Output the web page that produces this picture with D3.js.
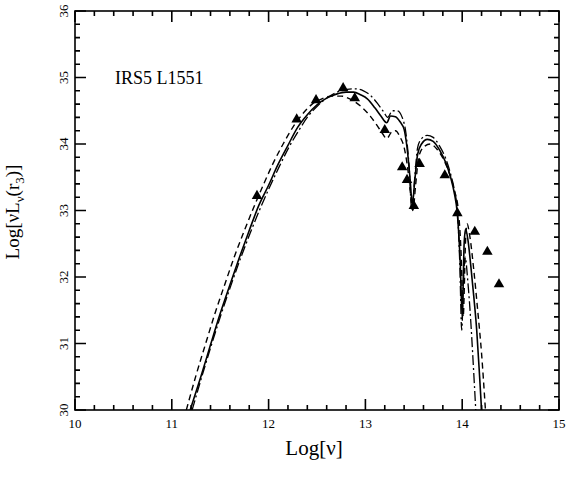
<!DOCTYPE html>
<html>
<head>
<meta charset="utf-8">
<script src="https://cdn.jsdelivr.net/npm/d3@7"></script>
</head>
<body style="margin:0">
<svg id="chart" width="566" height="483"></svg>
<script>

// observed fluxes (triangles)
const obsNu = [11.88, 12.29, 12.49, 12.77, 12.89, 13.20, 13.38, 13.43, 13.50, 13.56, 13.82, 13.95, 14.13, 14.26, 14.38]
const obsL = [33.22, 34.37, 34.66, 34.84, 34.69, 34.21, 33.65, 33.46, 33.07, 33.70, 33.53, 32.96, 32.68, 32.38, 31.89]

// model curves [log nu, log nuLnu]
const solidCurve = [
	[11.19, 30.0], [11.3, 30.5], [11.4, 30.98], [11.5, 31.45], [11.6, 31.88], [11.7, 32.3],
	[11.8, 32.7], [11.9, 33.08], [12.0, 33.38], [12.1, 33.7], [12.2, 33.98], [12.3, 34.25],
	[12.4, 34.44], [12.5, 34.59], [12.6, 34.69], [12.7, 34.75], [12.8, 34.78], [12.88, 34.78],
	[12.95, 34.74], [13.02, 34.68], [13.1, 34.54], [13.16, 34.42], [13.22, 34.32], [13.26, 34.42],
	[13.31, 34.41], [13.36, 34.33], [13.4, 34.22], [13.43, 33.95], [13.46, 33.5], [13.485, 33.1],
	[13.51, 33.45], [13.54, 33.85], [13.58, 34.0], [13.64, 34.07], [13.7, 34.04], [13.77, 33.9],
	[13.83, 33.72], [13.88, 33.5], [13.92, 33.25], [13.95, 32.95], [13.98, 32.2], [14.0, 31.4],
	[14.02, 32.5], [14.035, 32.72], [14.06, 32.55], [14.09, 32.15], [14.12, 31.7], [14.15, 31.2],
	[14.18, 30.5], [14.2, 30.0]
]

const dashedCurve = [
	[11.15, 30.0], [11.25, 30.52], [11.35, 31.0], [11.45, 31.47], [11.55, 31.9], [11.65, 32.32],
	[11.75, 32.7], [11.85, 33.06], [11.95, 33.4], [12.05, 33.72], [12.15, 34.0], [12.25, 34.25],
	[12.35, 34.45], [12.45, 34.6], [12.55, 34.68], [12.65, 34.72], [12.75, 34.72], [12.85, 34.67],
	[12.95, 34.57], [13.05, 34.42], [13.12, 34.28], [13.18, 34.15], [13.22, 34.08], [13.27, 34.18],
	[13.31, 34.2], [13.36, 34.1], [13.4, 33.95], [13.44, 33.6], [13.47, 33.2], [13.49, 33.0],
	[13.52, 33.4], [13.55, 33.8], [13.6, 33.95], [13.67, 34.0], [13.74, 33.92], [13.81, 33.76],
	[13.87, 33.55], [13.92, 33.3], [13.96, 33.0], [13.99, 32.3], [14.01, 31.4], [14.035, 32.55],
	[14.05, 32.8], [14.08, 32.6], [14.12, 32.1], [14.16, 31.5], [14.2, 30.85], [14.24, 30.0]
]

const dashDotCurve = [
	[11.21, 30.0], [11.31, 30.5], [11.41, 30.98], [11.51, 31.44], [11.61, 31.87], [11.71, 32.28],
	[11.81, 32.66], [11.91, 33.02], [12.01, 33.35], [12.11, 33.66], [12.21, 33.95], [12.31, 34.2],
	[12.41, 34.42], [12.51, 34.58], [12.61, 34.7], [12.71, 34.78], [12.81, 34.82], [12.9, 34.83],
	[12.98, 34.8], [13.06, 34.72], [13.13, 34.6], [13.19, 34.48], [13.23, 34.4], [13.28, 34.5],
	[13.33, 34.5], [13.38, 34.4], [13.42, 34.15], [13.45, 33.7], [13.48, 33.0], [13.51, 33.5],
	[13.54, 33.95], [13.58, 34.08], [13.64, 34.13], [13.7, 34.1], [13.77, 33.96], [13.83, 33.78],
	[13.88, 33.55], [13.92, 33.3], [13.95, 33.0], [13.975, 32.2], [13.995, 31.2], [14.015, 32.0],
	[14.03, 32.3], [14.06, 31.9], [14.09, 31.3], [14.11, 30.8], [14.14, 30.0]
]

const xTicks = [10, 11, 12, 13, 14, 15]
const yTicks = [30, 31, 32, 33, 34, 35, 36]

const font = "'Liberation Serif', 'DejaVu Serif', serif"

const svg = d3.select('#chart')

const x = d3.scaleLinear()
	.domain([10, 15])
	.range([75, 559])

const y = d3.scaleLinear()
	.domain([30, 36])
	.range([410, 11])

const x0 = x(10), x1 = x(15), y0 = y(30), y1 = y(36)

svg.append('rect')
	.attr('x', x0)
	.attr('y', y1)
	.attr('width', x1 - x0)
	.attr('height', y0 - y1)
	.attr('fill', 'none')
	.attr('stroke', 'black')
	.attr('stroke-width', 1.6)

// tick marks: every 0.2, long ones on integers, all pointing inward
const tickX = d3.range(0, 26).map(i => 10 + i * 0.2)
const tickY = d3.range(0, 31).map(i => 30 + i * 0.2)
const isMajor = v => Math.abs(v - Math.round(v)) < 1e-6
const len = v => (isMajor(v) ? 11 : 5)

const p = d3.path()
tickX.forEach(v => {
	p.moveTo(x(v), y0); p.lineTo(x(v), y0 - len(v))
	p.moveTo(x(v), y1); p.lineTo(x(v), y1 + len(v))
})
tickY.forEach(v => {
	p.moveTo(x0, y(v)); p.lineTo(x0 + len(v), y(v))
	p.moveTo(x1, y(v)); p.lineTo(x1 - len(v), y(v))
})
svg.append('path')
	.attr('d', p.toString())
	.style('fill', 'none')
	.style('stroke', '#000')
	.attr('stroke-width', 1.6)

// tick labels
svg.selectAll('text.xlab')
	.data(xTicks)
	.enter()
	.append('text')
	.attr('class', 'xlab')
	.attr('x', d => x(d))
	.attr('y', 428)
	.attr('text-anchor', 'middle')
	.style('font-family', font)
	.style('font-size', '13px')
	.text(d => d)

svg.selectAll('text.ylab')
	.data(yTicks)
	.enter()
	.append('text')
	.attr('class', 'ylab')
	.attr('transform', d => `translate(63,${y(d)}) rotate(-90)`)
	.attr('dy', '0.35em')
	.attr('text-anchor', 'middle')
	.style('font-family', font)
	.style('font-size', '13px')
	.text(d => d)

// axis titles
svg.append('text')
	.attr('x', 314)
	.attr('y', 455)
	.attr('text-anchor', 'middle')
	.style('font-family', font)
	.style('font-size', '21px')
	.text('Log[ν]')

const yTitle = svg.append('text')
	.attr('transform', 'translate(12,212) rotate(-90)')
	.attr('dy', '0.35em')
	.attr('text-anchor', 'middle')
	.style('font-family', font)
	.style('font-size', '19px')
yTitle.append('tspan').text('Log[νL')
yTitle.append('tspan').attr('dy', 5).style('font-size', '13px').text('ν')
yTitle.append('tspan').attr('dy', -5).text('(r')
yTitle.append('tspan').attr('dy', 5).style('font-size', '13px').text('3')
yTitle.append('tspan').attr('dy', -5).text(')]')

svg.append('text')
	.attr('x', 115)
	.attr('y', 84)
	.style('font-family', font)
	.style('font-size', '18px')
	.text('IRS5  L1551')

// model curves
svg.append('clipPath')
	.attr('id', 'plotclip')
	.append('rect')
	.attr('x', x0)
	.attr('y', y1)
	.attr('width', x1 - x0)
	.attr('height', y0 - y1)

const line = d3.line()
	.x(d => x(d[0]))
	.y(d => y(d[1]))
	.curve(d3.curveMonotoneX)

const curves = [
	{ data: dashedCurve, dash: '6,4', w: 1.4 },
	{ data: dashDotCurve, dash: '10,3,2,3', w: 1.3 },
	{ data: solidCurve, dash: null, w: 1.6 }
]

svg.append('g')
	.attr('clip-path', 'url(#plotclip)')
	.selectAll('path')
	.data(curves)
	.enter()
	.append('path')
	.attr('d', d => line(d.data))
	.style('fill', 'none')
	.style('stroke', 'black')
	.attr('stroke-width', d => d.w)
	.attr('stroke-dasharray', d => d.dash)

// observations
svg.selectAll('path.obs')
	.data(obsNu)
	.enter()
	.append('path')
	.attr('class', 'obs')
	.attr('d', d3.symbol(d3.symbolTriangle, 48))
	.attr('transform', (d, i) => `translate(${x(d)},${y(obsL[i])})`)
	.style('fill', 'black')

</script>
</body>
</html>
